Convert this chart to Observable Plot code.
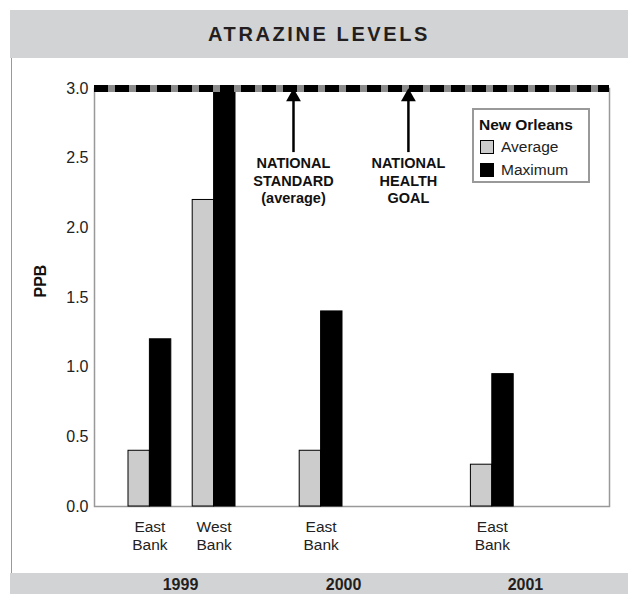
<!DOCTYPE html>
<html>
<head>
<meta charset="utf-8">
<script src="https://cdn.jsdelivr.net/npm/d3@7"></script>
<script src="https://cdn.jsdelivr.net/npm/@observablehq/plot@0.6"></script>
<style>
  html, body { margin: 0; padding: 0; background: #fff; }
  #wrap { position: relative; width: 628px; height: 594px; overflow: hidden; font-family: "Liberation Sans", Arial, sans-serif; }
  #title { position: absolute; left: 10px; top: 10px; width: 618px; height: 48px; background: #d1d3d4;
           display: flex; align-items: center; justify-content: center;
           font-weight: bold; font-size: 20px; letter-spacing: 2.6px; color: #231f20; }
  #leftline { position: absolute; left: 11px; top: 58px; width: 1px; height: 515px; background: #999; }
  #band { position: absolute; left: 10px; top: 573px; right: 0; height: 21px; background: #d1d3d4; }
  #chart { position: absolute; left: 0; top: 58px; }
  #legend { position: absolute; left: 472px; top: 108px; width: 114px; height: 71px; border: 2px solid #999; background: #fff; }
  #legend .hd { position: absolute; left: 5px; top: 6px; font-weight: bold; font-size: 15.5px; color: #111; }
  #legend .it { position: absolute; left: 6px; font-size: 15.5px; color: #222; display: flex; align-items: center; }
  #legend .sw { width: 14px; height: 14px; box-sizing: border-box; margin-right: 7px; }
</style>
</head>
<body>
<div id="wrap">
  <div id="title"></div>
  <div id="leftline"></div>
  <div id="band"></div>
  <div id="chart"></div>
  <div id="legend"></div>
</div>
<script>
// ---- data ----
const titleText = "ATRAZINE LEVELS";
const years = ["1999", "1999", "2000", "2001"];
const banks = ["East\nBank", "West\nBank", "East\nBank", "East\nBank"];
const average = [0.4, 2.2, 0.4, 0.3];
const maximum = [1.2, 3.0, 1.4, 0.95];
const yearLabels = ["1999", "2000", "2001"];
const yTicks = [0, 0.5, 1.0, 1.5, 2.0, 2.5, 3.0];
const limitValue = 3.0;
const annotationLabels = ["NATIONAL\nSTANDARD\n(average)", "NATIONAL\nHEALTH\nGOAL"];
const seriesNames = ["Average", "Maximum"];
const legendTitle = "New Orleans";
const yLabel = "PPB";

// ---- layout (slot units on the x scale) ----
const groupStart = [0, 3, 8, 16];
const yearLabelX = [2.43, 10.05, 18.55];
const annotationX = [7.71, 13.08];
const seriesFill = ["#cccccc", "#000000"];

const bars = [];
banks.forEach((b, i) => {
  bars.push({x1: groupStart[i], x2: groupStart[i] + 1, value: average[i], series: seriesNames[0]});
  bars.push({x1: groupStart[i] + 1, x2: groupStart[i] + 2, value: maximum[i], series: seriesNames[1]});
});
const bankLabels = banks.map((b, i) => ({x: groupStart[i] + 1, label: b, year: years[i]}));
const yearData = yearLabels.map((y, i) => ({x: yearLabelX[i], label: y}));
const annots = annotationLabels.map((t, i) => ({x: annotationX[i], label: t}));

document.getElementById("title").textContent = titleText;

const plot = Plot.plot({
  width: 628,
  height: 536,
  marginTop: 30,
  marginBottom: 88,
  marginLeft: 94,
  marginRight: 19,
  style: {background: "transparent", fontFamily: "'Liberation Sans', Arial, sans-serif", fontSize: "16px", color: "#222"},
  x: {type: "linear", domain: [0, 18], range: [128, 513.2], axis: null},
  y: {domain: [0, 3], ticks: yTicks, tickFormat: d3.format(".1f"), tickSize: 0, tickPadding: 6, label: null},
  marks: [
    Plot.frame({stroke: "#999", strokeWidth: 1.5}),
    Plot.rectY(bars, {x1: "x1", x2: "x2", y: "value",
      fill: d => d.series === seriesNames[0] ? seriesFill[0] : seriesFill[1],
      stroke: "#000", strokeWidth: 1}),
    Plot.ruleY([limitValue], {stroke: "#8c8c8c", strokeWidth: 7}),
    Plot.ruleY([limitValue], {stroke: "#000", strokeWidth: 7, strokeDasharray: "14,7"}),
    Plot.ruleX(annots, {x: "x", y1: 2.54, y2: 2.92, stroke: "#000", strokeWidth: 2.5}),
    Plot.dot(annots, {x: "x", y: 2.94, symbol: "triangle", r: 5.5, fill: "#000", stroke: null}),
    Plot.text(annots, {x: "x", y: 2.52, text: "label", lineAnchor: "top", fontWeight: "bold", fontSize: 14.5, lineHeight: 1.22, fill: "#111"}),
    Plot.text(bankLabels, {x: "x", y: 0, text: "label", dy: 12, lineAnchor: "top", fontSize: 15.5, lineHeight: 1.18, fill: "#222"}),
    Plot.text(yearData, {x: "x", y: 0, text: "label", dy: 78, lineAnchor: "middle", fontWeight: "bold", fontSize: 16, fill: "#231f20"}),
    Plot.text([yLabel], {frameAnchor: "left", dx: -54, text: d => d, rotate: -90, fontWeight: "bold", fontSize: 16, fill: "#111"})
  ]
});
document.getElementById("chart").appendChild(plot);

const lg = document.getElementById("legend");
lg.innerHTML = `<div class="hd">${legendTitle}</div>` +
  seriesNames.map((s, i) => `<div class="it" style="top:${28 + i * 23}px"><div class="sw" style="background:${seriesFill[i]};border:1px solid #000"></div>${s}</div>`).join("");
</script>
</body>
</html>
